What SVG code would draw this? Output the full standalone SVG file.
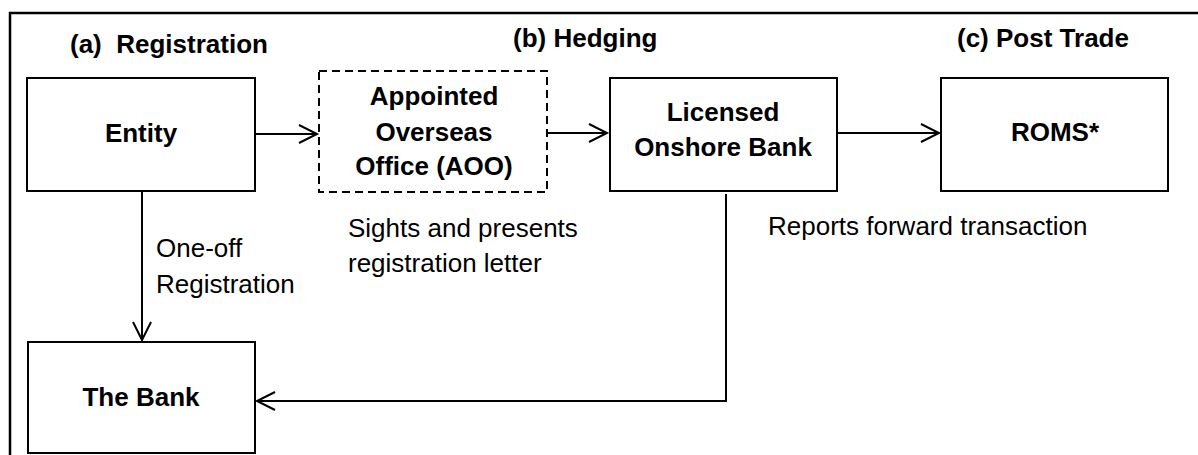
<svg xmlns="http://www.w3.org/2000/svg" width="1198" height="455" viewBox="0 0 1198 455">
<style>
.box{fill:#fff;stroke:#000;stroke-width:2}
.dash{fill:#fff;stroke:#000;stroke-width:2;stroke-dasharray:8 5}
.b{font-family:"Liberation Sans",Arial,sans-serif;font-weight:bold;font-size:26px;fill:#000}
.r{font-family:"Liberation Sans",Arial,sans-serif;font-size:26px;fill:#000}
.c{text-anchor:middle}
.conn{fill:none;stroke:#000;stroke-width:2}
</style>
<defs>
<marker id="arr" markerUnits="userSpaceOnUse" viewBox="-22 -12 26 24" markerWidth="26" markerHeight="24" refX="0" refY="0" orient="auto">
<path d="M-18,-9 L0,0 L-18,9" fill="none" stroke="#000" stroke-width="2"/>
</marker>
</defs>
<rect width="1198" height="455" fill="#fff"/>
<g id="frame"><path d="M10,455 L10,13 L1198,13" fill="none" stroke="#000" stroke-width="2.5"/></g>
<g id="titles">
<text class="b" x="70" y="53" style="white-space:pre">(a)  Registration</text>
<text class="b" x="513" y="47">(b) Hedging</text>
<text class="b" x="957" y="47">(c) Post Trade</text>
</g>
<g id="entity"><rect class="box" x="27" y="78" width="228" height="113"/><text class="b c" x="141" y="142">Entity</text></g>
<g id="aoo"><rect class="dash" x="319" y="71" width="228" height="121"/>
<text class="b c" x="434" y="105">Appointed</text>
<text class="b c" x="434" y="141">Overseas</text>
<text class="b c" x="434" y="175">Office (AOO)</text></g>
<g id="licensed"><rect class="box" x="610" y="78" width="227" height="113"/>
<text class="b c" x="723" y="121">Licensed</text>
<text class="b c" x="723" y="156">Onshore Bank</text></g>
<g id="roms"><rect class="box" x="941" y="78" width="227" height="113"/><text class="b c" x="1055" y="141">ROMS*</text></g>
<g id="bank"><rect class="box" x="28" y="342" width="227" height="111"/><text class="b c" x="141" y="406">The Bank</text></g>
<g id="connectors">
<line class="conn" x1="255" y1="134" x2="317" y2="134" marker-end="url(#arr)"/>
<line class="conn" x1="547" y1="133" x2="607" y2="133" marker-end="url(#arr)"/>
<line class="conn" x1="837" y1="133" x2="939" y2="133" marker-end="url(#arr)"/>
<line class="conn" x1="142" y1="191" x2="142" y2="340" marker-end="url(#arr)"/>
<polyline class="conn" points="726,194 726,401 257,401" marker-end="url(#arr)"/>
</g>
<g id="labels">
<text class="r" x="156" y="257">One-off</text>
<text class="r" x="156" y="293">Registration</text>
<text class="r" x="348" y="237">Sights and presents</text>
<text class="r" x="348" y="272">registration letter</text>
<text class="r" x="768" y="235">Reports forward transaction</text>
</g>
</svg>
